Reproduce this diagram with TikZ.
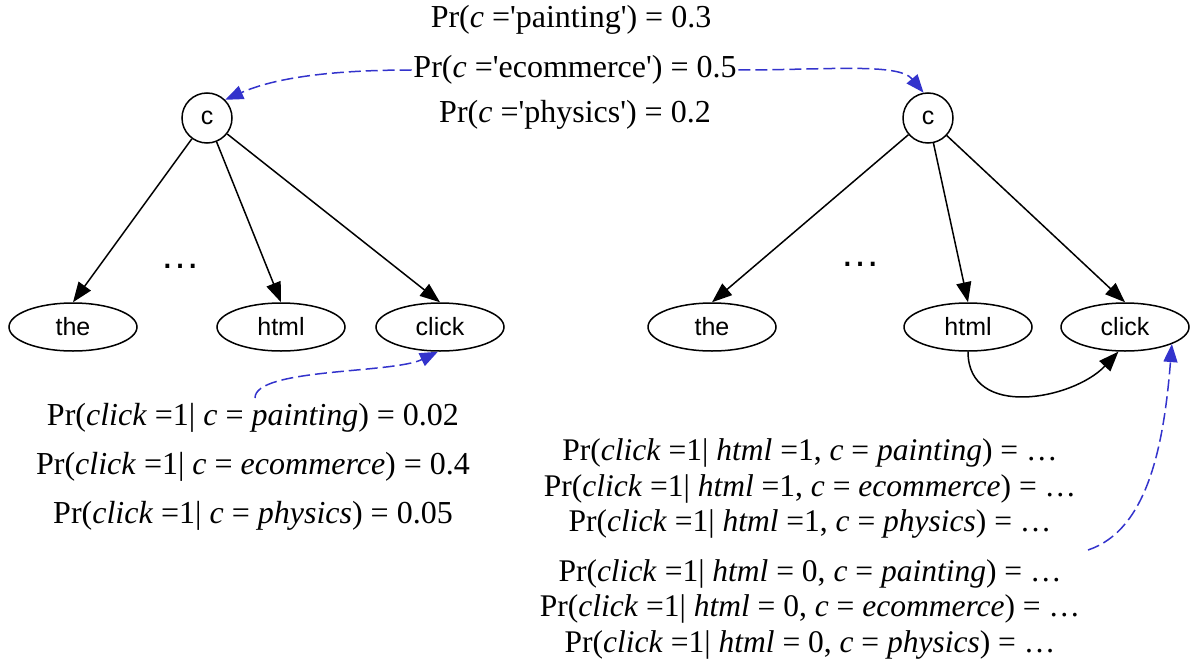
\documentclass[tikz,border=0pt]{standalone}
\usepackage{fontspec}
\setmainfont{Liberation Serif}
\newfontfamily\arialfont{Liberation Sans}
\usetikzlibrary{shapes.geometric,arrows.meta}
\definecolor{probblue}{RGB}{51,51,204}
\newcommand{\strq}{\textquotesingle}

\begin{document}
\begin{tikzpicture}[x=1pt,y=-1pt,line width=1.5pt,
		var/.style={draw,circle,minimum size=50pt,inner sep=0pt,font=\arialfont\fontsize{25}{30}\selectfont},
		word/.style={draw,ellipse,minimum width=128pt,minimum height=48pt,inner sep=0pt,font=\arialfont\fontsize{25}{30}\selectfont},
		prob/.style={inner sep=1pt,font=\fontsize{32}{36}\selectfont},
		probr/.style={inner sep=1pt,font=\fontsize{31.5}{34}\selectfont},
		edge/.style={-{Triangle[length=20pt,width=15pt]}},
		link/.style={-{Triangle[length=18pt,width=14pt]},probblue,dash pattern=on 12pt off 5pt}]
		\useasboundingbox (0,0) rectangle (1190,666);
		% the two class nodes
		\node[var] (cl) at (207,118) {c};
		\node[var] (cr) at (928,118) {c};
		% word nodes
		\node[word] (tl) at (73,327) {the};
		\node[word] (hl) at (281,327) {html};
		\node[word] (kl) at (440,327) {click};
		\node[word] (tr) at (712,327) {the};
		\node[word] (hr) at (968,327) {html};
		\node[word] (kr) at (1125,327) {click};
		\node[font=\arialfont\fontsize{40}{40}\selectfont] (dl) at (180,266) {…};
		\node[font=\arialfont\fontsize{40}{40}\selectfont] (dr) at (860,264) {…};
		\foreach \w in {tl,hl,kl}{
			\draw[edge] (cl) -- (\w.north);}
		\foreach \w in {tr,hr,kr}{
			\draw[edge] (cr) -- (\w.north);}
		\draw[edge] (hr.south) .. controls +(0,68) and +(-45,48) .. (kr.255);
		
		% prior on c
		\node[prob] (pp) at (571,20) {Pr(\textit{c} =\strq painting\strq) = 0.3};
		\node[prob] (pe) at (575,70) {Pr(\textit{c} =\strq ecommerce\strq) = 0.5};
		\node[prob] (pf) at (575,115) {Pr(\textit{c} =\strq physics\strq) = 0.2};
		\draw[link] (pe.west) .. controls +(-90,0) and +(45,-20) .. (cl.45);
		\draw[link] (pe.east) .. controls +(90,0) and +(-25,-30) .. (cr.100);
		
		% naive bayes table
		\node[prob] (lp1) at (253,418) {Pr(\textit{click} =1| \textit{c} = \textit{painting}) = 0.02};
		\node[prob] (lp2) at (253,467) {Pr(\textit{click} =1| \textit{c} = \textit{ecommerce}) = 0.4};
		\node[prob] (lp3) at (253,516) {Pr(\textit{click} =1| \textit{c} = \textit{physics}) = 0.05};
		\coordinate (lsrc) at (255,398);
		\draw[link] (lsrc) .. controls +(0,-30) and +(-45,22) .. (kl.265);
		
		% table with html parent
		\node[probr] (rp1) at (810,453) {Pr(\textit{click} =1| \textit{html} =1, \textit{c} = \textit{painting}) = …};
		\node[probr] (rp2) at (810,489) {Pr(\textit{click} =1| \textit{html} =1, \textit{c} = \textit{ecommerce}) = …};
		\node[probr] (rp3) at (810,524) {Pr(\textit{click} =1| \textit{html} =1, \textit{c} = \textit{physics}) = …};
		\node[probr] (rp4) at (810,574) {Pr(\textit{click} =1| \textit{html} = 0, \textit{c} = \textit{painting}) = …};
		\node[probr] (rp5) at (810,609) {Pr(\textit{click} =1| \textit{html} = 0, \textit{c} = \textit{ecommerce}) = …};
		\node[probr] (rp6) at (810,645) {Pr(\textit{click} =1| \textit{html} = 0, \textit{c} = \textit{physics}) = …};
		\coordinate (rsrc) at (1088,550);
		\draw[link] (rsrc) .. controls +(60,-20) and +(-8,100) .. (kr.-20);
\end{tikzpicture}
\end{document}
